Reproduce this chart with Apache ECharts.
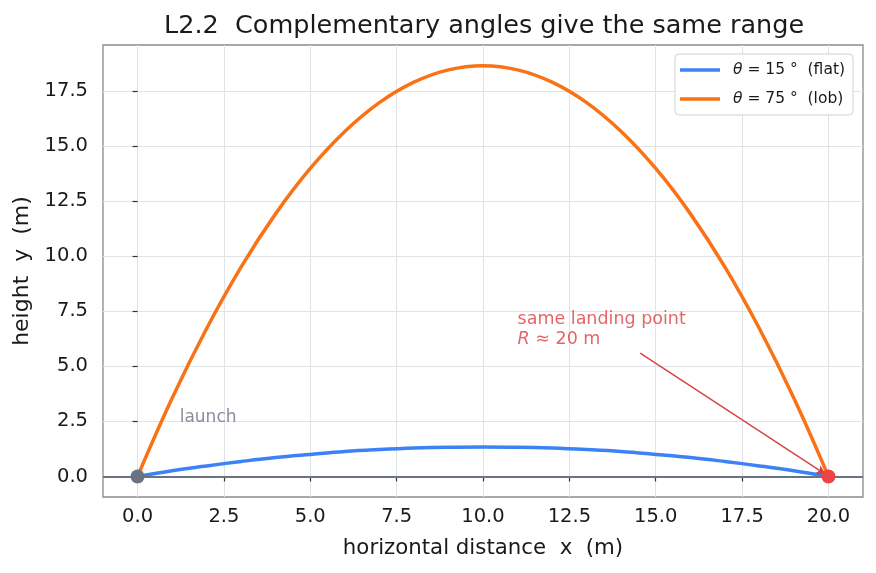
<!DOCTYPE html>
<html><head><meta charset="utf-8">
<script src="https://cdn.jsdelivr.net/npm/echarts@6/dist/echarts.min.js"></script>
<style>html,body{margin:0;padding:0;background:#fff}#c{width:876px;height:573px}</style>
</head><body><div id="c"></div>
<script>
// Data
var xs = [0,1,2,3,4,5,6,7,8,9,10,11,12,13,14,15,16,17,18,19,20];
var yFlat = [0,0.26,0.48,0.68,0.86,1.00,1.13,1.22,1.29,1.33,1.34,1.33,1.29,1.22,1.13,1.00,0.86,0.68,0.48,0.26,0];
var yLob = [0,3.55,6.72,9.52,11.94,13.99,15.67,16.98,17.91,18.47,18.66,18.47,17.91,16.98,15.67,13.99,11.94,9.52,6.72,3.55,0];
var xTicks = [0,2.5,5,7.5,10,12.5,15,17.5,20];
var yTicks = [0,2.5,5,7.5,10,12.5,15,17.5];
var launchPt = [0,0];
var landPt = [20,0];
var arrowFrom = [14.55,5.6];
var arrowTo = [19.93,0.08];
var noteAt = [11,5.75];
var launchAt = [1.22,2.3];

function pairs(x,y){return x.map(function(v,i){return [v,y[i]];});}
var FONT = 'DejaVu Sans';
var chart = echarts.init(document.getElementById('c'));
chart.setOption({
  animation:false,
  textStyle:{fontFamily:FONT},
  title:{text:'L2.2  Complementary angles give the same range',left:159,top:8,
    textStyle:{fontFamily:FONT,fontSize:25.5,fontWeight:'normal',color:'#1a1a1a'}},
  grid:{left:103,right:13,top:45,bottom:76,show:true,borderColor:'#8a8a8a',borderWidth:1.3,backgroundColor:'transparent'},
  legend:{right:23,top:54,orient:'vertical',itemGap:13,itemWidth:40,itemHeight:3.5,icon:'rect',
    backgroundColor:'#fff',borderColor:'#d0d0d0',borderWidth:1,borderRadius:4,padding:[8,8,8,5],
    textStyle:{fontFamily:FONT,fontSize:15.5,color:'#1a1a1a',padding:[0,0,0,8],
      rich:{i:{fontStyle:'italic',fontFamily:FONT,fontSize:15.5}}},
    formatter:function(n){return n==='flat'?'{i|θ} = 15 °  (flat)':'{i|θ} = 75 °  (lob)';},
    data:['flat','lob']},
  xAxis:{type:'value',min:-1,max:21,
    name:'horizontal distance  x  (m)',nameLocation:'middle',nameGap:41,
    nameTextStyle:{fontFamily:FONT,fontSize:21.3,color:'#1a1a1a'},
    axisLine:{show:false},
    axisTick:{show:true,length:5,lineStyle:{color:'#333',width:1.2},customValues:xTicks},
    axisLabel:{fontFamily:FONT,fontSize:19.5,color:'#1a1a1a',margin:10,customValues:xTicks,
      formatter:function(v){return v.toFixed(1);}},
    splitLine:{show:true,lineStyle:{color:'#dfe2e6',width:1}}},
  yAxis:{type:'value',min:-0.933,max:19.6,
    name:'height  y  (m)',nameLocation:'middle',nameGap:69,
    nameTextStyle:{fontFamily:FONT,fontSize:22,color:'#1a1a1a'},
    axisLine:{show:false},
    axisTick:{show:true,length:5,lineStyle:{color:'#333',width:1.2},customValues:yTicks},
    axisLabel:{fontFamily:FONT,fontSize:19.5,color:'#1a1a1a',margin:15,customValues:yTicks,
      formatter:function(v){return v.toFixed(1);}},
    splitLine:{show:true,lineStyle:{color:'#dfe2e6',width:1}}},
  series:[
    {name:'flat',type:'line',data:pairs(xs,yFlat),smooth:0.4,showSymbol:false,
      lineStyle:{color:'#3b82f6',width:3.5},itemStyle:{color:'#3b82f6'},z:3,
      markLine:{silent:true,symbol:['none','none'],label:{show:false},
        lineStyle:{color:'#6b7280',width:2,type:'solid'},data:[{yAxis:0}]}},
    {name:'lob',type:'line',data:pairs(xs,yLob),smooth:0.4,showSymbol:false,
      lineStyle:{color:'#f97316',width:3.5},itemStyle:{color:'#f97316'},z:3},
    {name:'launch',type:'scatter',data:[launchPt],symbolSize:14,itemStyle:{color:'#6b7280',opacity:1},z:5},
    {name:'land',type:'scatter',data:[landPt],symbolSize:14,itemStyle:{color:'#ef4444',opacity:1},z:5,
      markLine:{silent:true,symbol:['none','arrow'],symbolSize:[7,10],label:{show:false},
        lineStyle:{color:'#dc3f42',width:1.4,type:'solid'},
        data:[[{coord:arrowFrom},{coord:arrowTo}]]}},
    {name:'note',type:'scatter',data:[noteAt],symbolSize:0,z:6,
      label:{show:true,position:[0,0],align:'left',verticalAlign:'bottom',
        color:'#dc3f42',fontFamily:FONT,fontSize:17.5,lineHeight:20,
        formatter:'same landing point\n{i|R} ≈ 20 m',
        rich:{i:{fontStyle:'italic',color:'#dc3f42',fontFamily:FONT,fontSize:17.5,lineHeight:20}}}},
    {name:'launchtxt',type:'scatter',data:[launchAt],symbolSize:0,z:6,
      label:{show:true,position:[0,0],align:'left',verticalAlign:'bottom',
        color:'#6b7280',fontFamily:FONT,fontSize:17,formatter:'launch'}}
  ]
});
</script></body></html>
